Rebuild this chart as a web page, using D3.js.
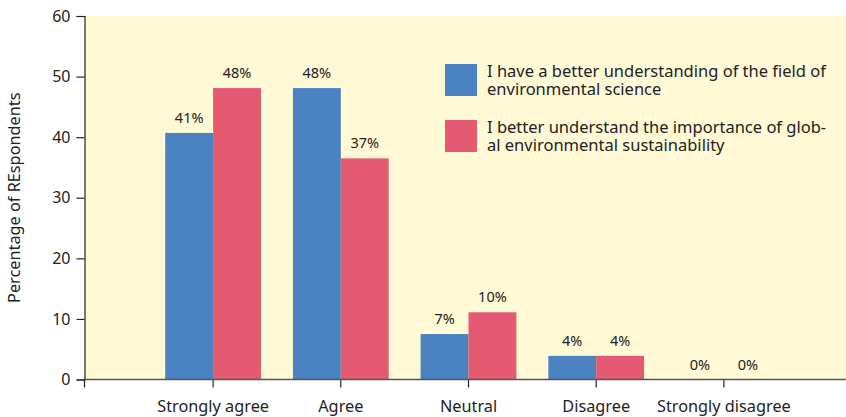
<!DOCTYPE html>
<html>
<head>
<meta charset="utf-8">
<script src="https://cdn.jsdelivr.net/npm/d3@7"></script>
<style>
  body { margin: 0; background: #fff; }
  text { font-family: "Noto Sans", "Open Sans", sans-serif; fill: #222; }
</style>
</head>
<body>
<script>
var categories = ["Strongly agree", "Agree", "Neutral", "Disagree", "Strongly disagree"];
var seriesNames = [["I have a better understanding of the field of", "environmental science"],
                   ["I better understand the importance of glob-", "al environmental sustainability"]];
var fieldValues = [40.7, 48.1, 7.5, 3.9, 0];
var importanceValues = [48.1, 36.5, 11.1, 3.9, 0];
var fieldLabels = ["41%", "48%", "7%", "4%", "0%"];
var importanceLabels = ["48%", "37%", "10%", "4%", "0%"];
var yTicks = [0, 10, 20, 30, 40, 50, 60];
var colors = ["#4a82c2", "#e35a71"];

var width = 846,
    height = 417,
    plotLeft = 84.5,
    plotRight = 846,
    plotTop = 16,
    plotBottom = 379.5;

var svg = d3.select("body").append("svg")
    .attr("width", width)
    .attr("height", height);

svg.append("rect")
    .attr("x", plotLeft)
    .attr("y", plotTop)
    .attr("width", plotRight - plotLeft)
    .attr("height", plotBottom - plotTop)
    .style("fill", "#fff9d6");

var y = d3.scaleLinear().domain([0, 60]).range([plotBottom, plotTop]);

var x0 = d3.scaleBand()
    .domain(categories)
    .range([133.3, 803.7])
    .padding(0.25);

var x1 = d3.scaleBand()
    .domain([0, 1])
    .range([0, x0.bandwidth()]);

var rows = categories.map(function(c, i) {
  return {cat: c, vals: [
    {s: 0, v: fieldValues[i], label: fieldLabels[i]},
    {s: 1, v: importanceValues[i], label: importanceLabels[i]}
  ]};
});

var groups = svg.selectAll(".group")
    .data(rows)
  .enter().append("g")
    .attr("class", "group")
    .attr("transform", function(d) { return "translate(" + x0(d.cat) + ",0)"; });

groups.selectAll("rect")
    .data(function(d) { return d.vals; })
  .enter().append("rect")
    .attr("x", function(d) { return x1(d.s); })
    .attr("y", function(d) { return y(d.v); })
    .attr("width", x1.bandwidth())
    .attr("height", function(d) { return y(0) - y(d.v); })
    .style("fill", function(d) { return colors[d.s]; });

groups.selectAll(".lbl")
    .data(function(d) { return d.vals; })
  .enter().append("text")
    .attr("class", "lbl")
    .attr("x", function(d) { return x1(d.s) + x1.bandwidth() / 2; })
    .attr("y", function(d) { return y(d.v) - 10; })
    .attr("text-anchor", "middle")
    .style("font-size", "14.5px")
    .text(function(d) { return d.label; });

// y axis
var yAxis = svg.append("g")
    .attr("transform", "translate(" + plotLeft + ",0)")
    .call(d3.axisLeft(y).tickValues(yTicks).tickSize(8).tickPadding(6));
yAxis.selectAll("text").style("font-size", "16px").style("fill", "#222");
yAxis.selectAll("line, path").style("stroke", "#222").style("stroke-width", 1.2);

// x axis
var xAxis = svg.append("g")
    .attr("transform", "translate(0," + plotBottom + ")")
    .call(d3.axisBottom(x0).tickSize(8).tickPadding(13));
xAxis.select(".domain").remove();
xAxis.selectAll("text").style("font-size", "16.3px").style("fill", "#222");
xAxis.selectAll("line").style("stroke", "#222").style("stroke-width", 1.2);

svg.append("line")
    .attr("x1", plotLeft).attr("x2", plotRight)
    .attr("y1", plotBottom).attr("y2", plotBottom)
    .style("stroke", "#555").style("stroke-width", 1.5);
svg.append("line")
    .attr("x1", plotLeft).attr("x2", plotLeft)
    .attr("y1", plotBottom).attr("y2", plotBottom + 8)
    .style("stroke", "#222").style("stroke-width", 1.2);

// y title
svg.append("text")
    .attr("transform", "translate(20," + ((plotTop + plotBottom) / 2) + ") rotate(-90)")
    .attr("text-anchor", "middle")
    .style("font-size", "16.3px")
    .text("Percentage of REspondents");

// legend
var legend = svg.selectAll(".legend")
    .data(seriesNames)
  .enter().append("g")
    .attr("class", "legend")
    .attr("transform", function(d, i) { return "translate(445," + (64 + i * 56) + ")"; });

legend.append("rect")
    .attr("width", 32)
    .attr("height", 32)
    .style("fill", function(d, i) { return colors[i]; });

legend.selectAll("text")
    .data(function(d) { return d; })
  .enter().append("text")
    .attr("x", 42)
    .attr("y", function(d, i) { return 13 + i * 17.5; })
    .style("font-size", "16.5px")
    .text(function(d) { return d; });
</script>
</body>
</html>
